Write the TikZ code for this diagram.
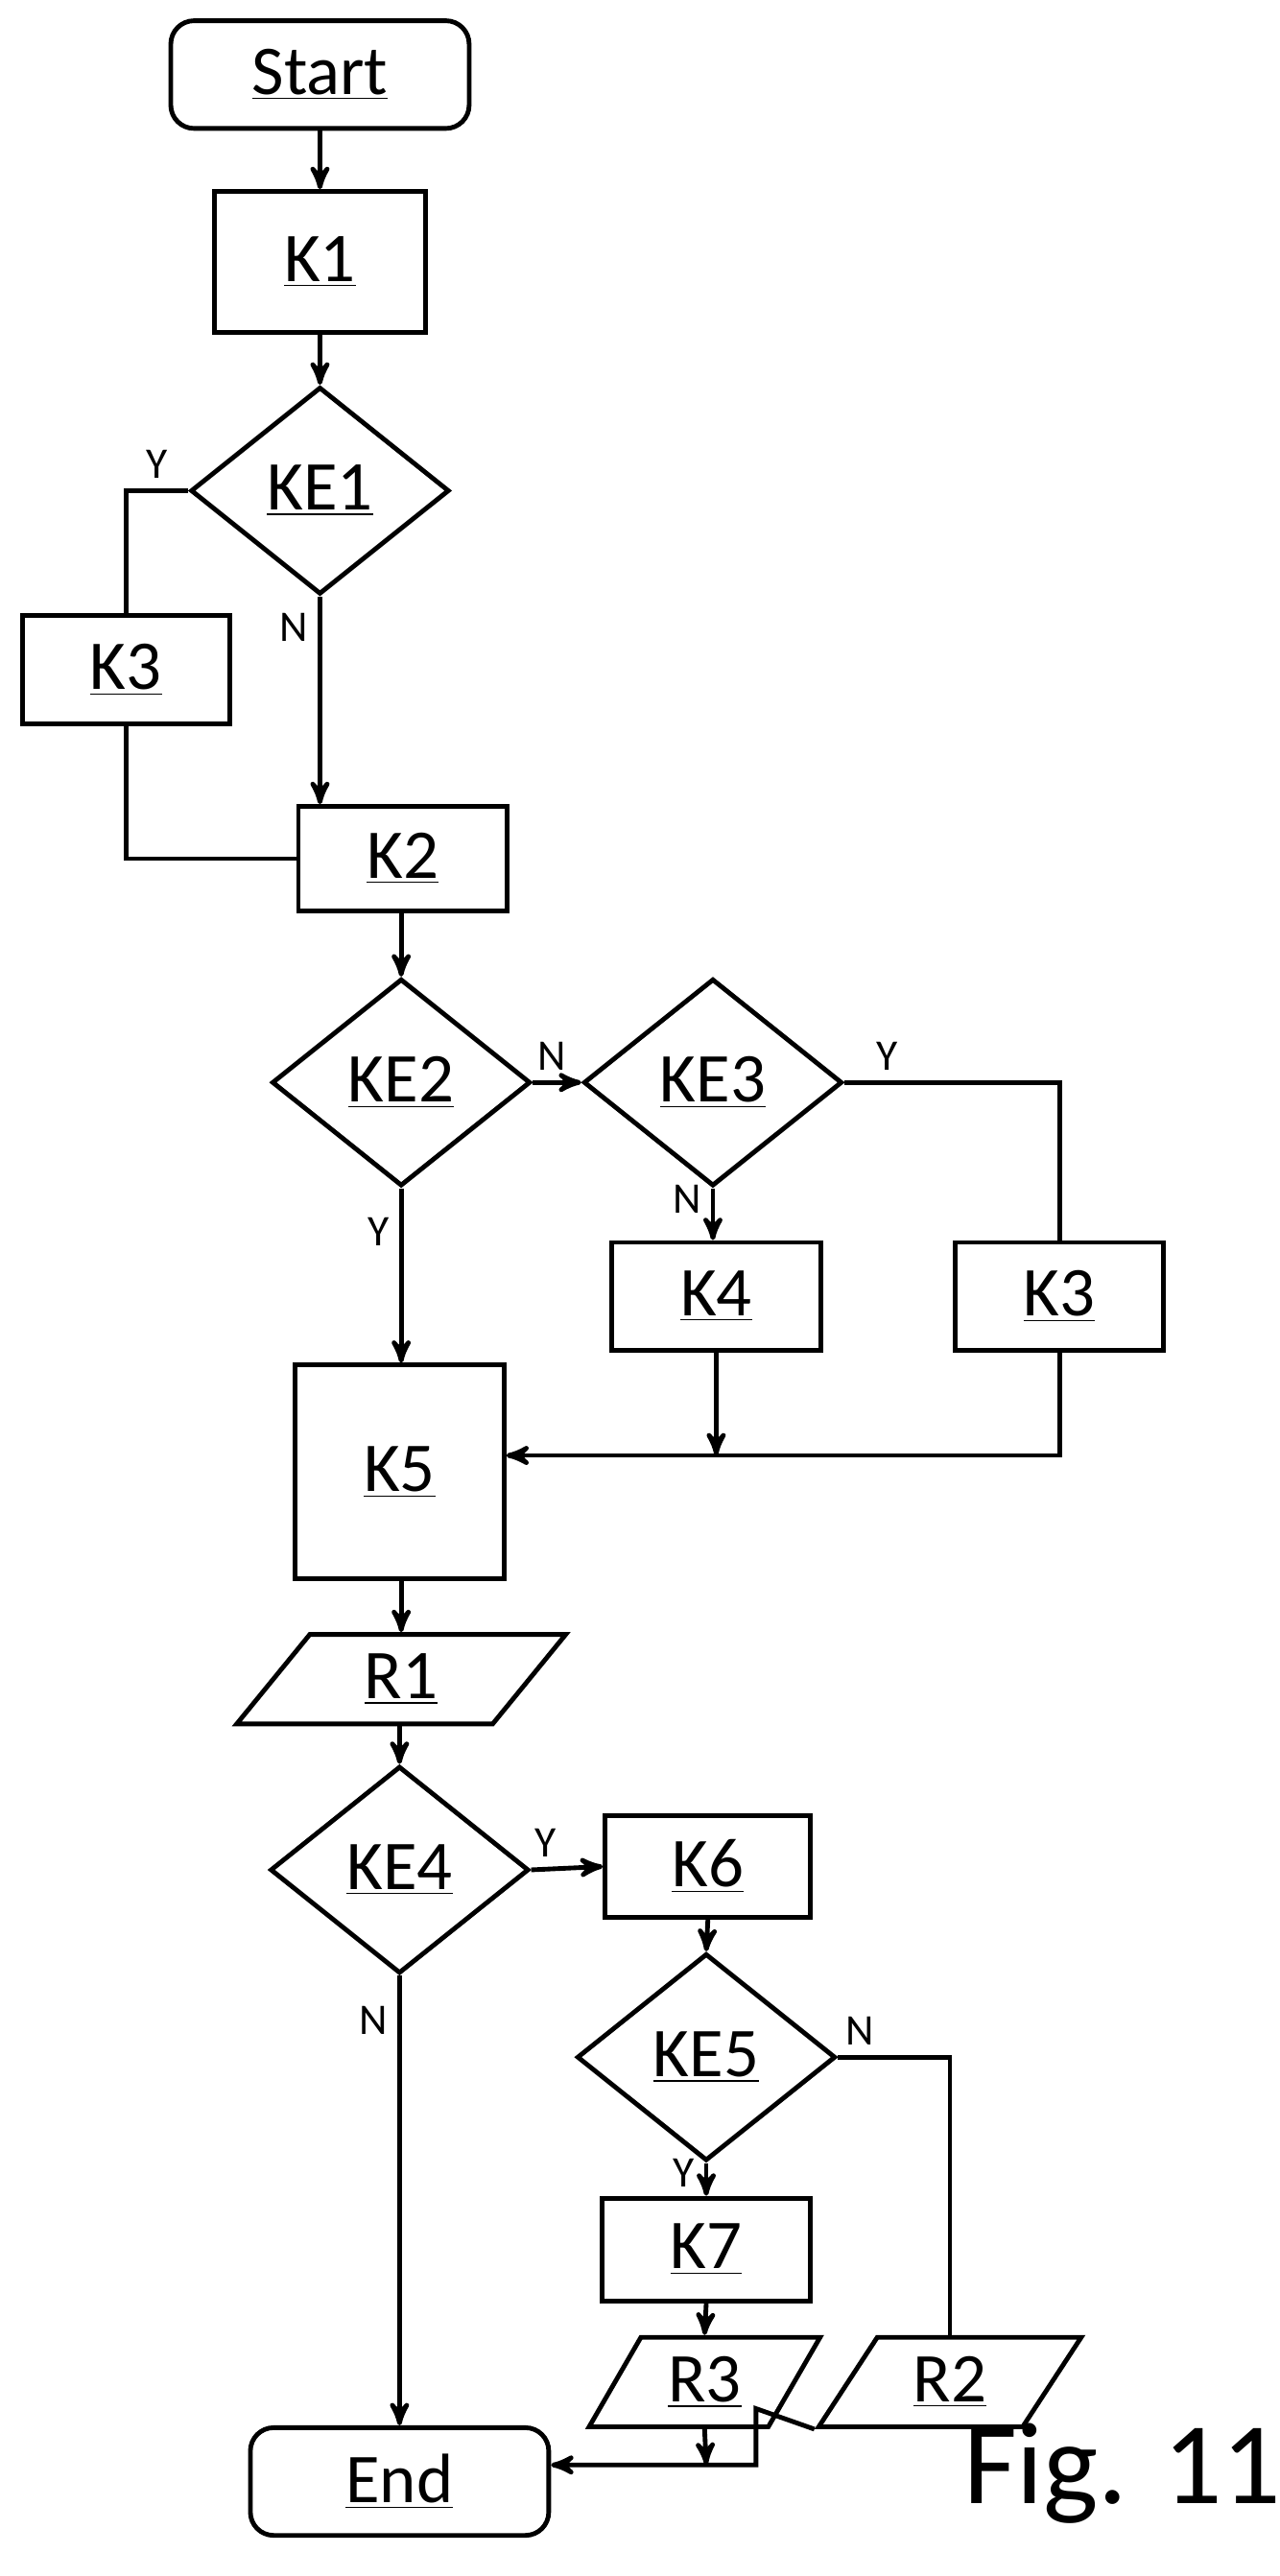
\documentclass[tikz,border=0pt]{standalone}
\usepackage{fontspec}
\setmainfont{Carlito}
\usetikzlibrary{arrows,shapes.geometric,positioning}

\begin{document}
\begin{tikzpicture}[x=0.02cm,y=-0.02cm,>=stealth',line width=1.6pt,
    every node/.style={font=\fontsize{24}{28}\selectfont},
    proc/.style={draw,rectangle,inner sep=0pt},
    term/.style={draw,rectangle,rounded corners=8pt,inner sep=0pt,minimum width=3.6cm,minimum height=1.3cm},
    dec/.style={draw,diamond,inner sep=0pt,minimum width=3.12cm,minimum height=2.5cm},
    io/.style={draw,trapezium,trapezium left angle=60,trapezium right angle=120,trapezium stretches=true,inner sep=0pt,minimum height=1.08cm},
    lbl/.style={font=\fontsize{15}{18}\selectfont}]

            \useasboundingbox (0,0) rectangle (772,1554);

            \node[term] (start) at (193,45) {\underline{Start}};

            \node[proc,minimum width=2.54cm,minimum height=1.7cm] (k1) at (193,158) {\underline{K1}};

            \node[dec] (ke1) at (193,296) {\underline{KE1}};

            \node[proc,minimum width=2.5cm,minimum height=1.3cm] (k3a) at (76,404) {\underline{K3}};

            \node[proc,minimum width=2.52cm,minimum height=1.26cm] (k2) at (243,518) {\underline{K2}};

            \node[dec] (ke2) at (242,653) {\underline{KE2}};

            \node[dec] (ke3) at (430,653) {\underline{KE3}};

            \node[proc,minimum width=2.52cm,minimum height=1.3cm] (k4) at (432,782) {\underline{K4}};

            \node[proc,minimum width=2.52cm,minimum height=1.3cm] (k3b) at (639,782) {\underline{K3}};

            \node[proc,minimum width=2.52cm,minimum height=2.58cm] (k5) at (241,888) {\underline{K5}};

            \node[io,minimum width=3.98cm] (r1) at (242,1013) {\underline{R1}};

            \node[dec] (ke4) at (241,1128) {\underline{KE4}};

            \node[proc,minimum width=2.48cm,minimum height=1.22cm] (k6) at (427,1126) {\underline{K6}};

            \node[dec] (ke5) at (426,1241) {\underline{KE5}};

            \node[proc,minimum width=2.52cm,minimum height=1.24cm] (k7) at (426,1357) {\underline{K7}};

            \node[io,minimum width=2.8cm] (r3) at (425,1437) {\underline{R3}};

            \node[io,minimum width=3.18cm] (r2) at (573,1437) {\underline{R2}};

            \node[term] (end) at (241,1497) {\underline{End}};

            \node[font=\fontsize{40}{46}\selectfont] (fig) at (677,1492) {Fig. 11};

            \coordinate (j1) at (426,1487);
            \coordinate (j2) at (456,1487);
            \coordinate (j3) at (456,1453);

            \draw[->] (start) -- (k1);
            \draw[->] (k1) -- (ke1);
            \draw (ke1.west) -| node[lbl,pos=0.25,above] {Y} (k3a.north);
            \draw (k3a.south) |- (k2.west);
            \draw[->] (ke1.south) -- node[lbl,pos=0.15,left] {N} (ke1.south |- k2.north);
            \draw[->] (k2.south -| ke2.north) -- (ke2.north);
            \draw[->] (ke2.east) -- node[lbl,pos=0.4,above] {N} (ke3.west);
            \draw (ke3.east) -| node[lbl,pos=0.1,above] {Y} (k3b.north);
            \draw[->] (ke3.south) -- node[lbl,pos=0.2,left] {N} (ke3.south |- k4.north);
            \draw[->] (ke2.south) -- node[lbl,pos=0.25,left] {Y} (ke2.south |- k5.north);
            \draw[->] (k3b.south) |- (k5.east |- 0,878);
            \draw[->] (k4.south) -- (k4.south |- 0,878);
            \draw[->] (k5.south -| r1.north) -- (r1.north);
            \draw[->] (r1.south -| ke4.north) -- (ke4.north);
            \draw[->] (ke4.east) -- node[lbl,pos=0.2,above] {Y} (k6.west);
            \draw[->] (ke4.south) -- node[lbl,pos=0.1,left] {N} (end.north);
            \draw[->] (k6.south) -- (ke5.north);
            \draw[->] (ke5.south) -- node[lbl,pos=0.3,left] {Y} (k7.north);
            \draw (ke5.east) -| node[lbl,pos=0.1,above] {N} (r2.north);
            \draw[->] (k7.south) -- (r3.north);
            \draw[->] (r3.south) -- (j1);
            \draw[->] (r2.bottom left corner) -- (j3) -- (j2) -- (end.east |- j2);

        \end{tikzpicture}
\end{document}
